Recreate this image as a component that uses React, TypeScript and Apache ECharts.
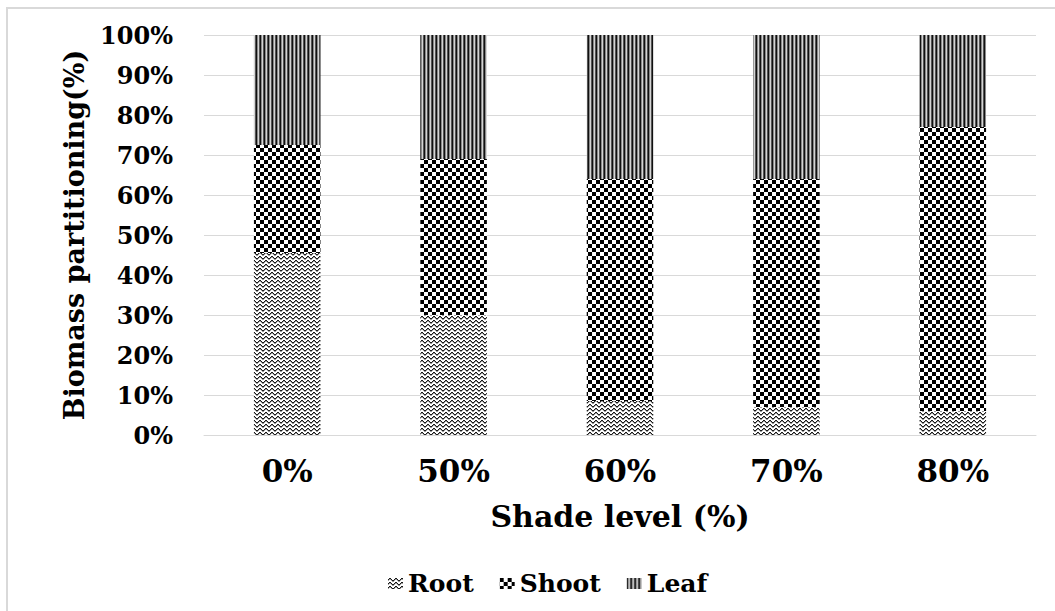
import React, { useEffect, useRef } from "react";
import * as echarts from "echarts";

const categories = ["0%", "50%", "60%", "70%", "80%"];
const rootValues = [45.5, 30, 8.5, 7, 6];
const shootValues = [27, 39, 55.5, 57, 71];
const leafValues = [27.5, 31, 36, 36, 23];
const seriesNames = ["Root", "Shoot", "Leaf"];

const FONT = "DejaVu Serif";

function makeCanvas(w: number, h: number, draw: (ctx: CanvasRenderingContext2D) => void) {
  const c = document.createElement("canvas");
  c.width = w;
  c.height = h;
  const ctx = c.getContext("2d") as CanvasRenderingContext2D;
  ctx.fillStyle = "#ffffff";
  ctx.fillRect(0, 0, w, h);
  draw(ctx);
  return { image: c.toDataURL(), imageWidth: w, imageHeight: h, repeat: "repeat" };
}

function wavePattern() {
  return makeCanvas(6, 4, (ctx) => {
    const ys = [1, 0, 0, 1, 2, 2];
    ys.forEach((y, x) => {
      ctx.fillStyle = "#1a1a1a";
      ctx.fillRect(x, y, 1, 1);
      ctx.fillStyle = "#9a9a9a";
      ctx.fillRect(x, (y + 1) % 4, 1, 1);
    });
  });
}

function checkerPattern() {
  return makeCanvas(8, 8, (ctx) => {
    ctx.fillStyle = "#000000";
    ctx.fillRect(0, 0, 4, 4);
    ctx.fillRect(4, 4, 4, 4);
  });
}

function stripePattern() {
  return makeCanvas(4, 4, (ctx) => {
    const cols = ["#111111", "#8a8a8a", "#d4d4d4", "#555555"];
    cols.forEach((c, i) => {
      ctx.fillStyle = c;
      ctx.fillRect(i, 0, 1, 4);
    });
  });
}

export default function App() {
  const ref = useRef<HTMLDivElement>(null);
  useEffect(() => {
    if (!ref.current) return;
    const chart = echarts.init(ref.current, null, { renderer: "svg" });
    const patterns = [wavePattern(), checkerPattern(), stripePattern()];
    const values = [rootValues, shootValues, leafValues];
    chart.setOption({
      animation: false,
      backgroundColor: "#ffffff",
      textStyle: { fontFamily: FONT },
      graphic: [
        {
          type: "rect",
          shape: { x: 7, y: 8, width: 1300, height: 900 },
          style: { fill: "none", stroke: "#d9d9d9", lineWidth: 2 },
          silent: true,
        },
      ],
      grid: { left: 204, right: 19, top: 35, bottom: 176 },
      legend: {
        left: 383,
        top: 566,
        itemWidth: 15,
        itemHeight: 11,
        itemGap: 26,
        icon: "rect",
        textStyle: { fontFamily: FONT, fontWeight: "bold", fontSize: 25, color: "#000" },
        data: seriesNames,
      },
      xAxis: {
        type: "category",
        data: categories,
        name: "Shade level (%)",
        nameLocation: "middle",
        nameGap: 66,
        nameTextStyle: { fontFamily: FONT, fontWeight: "bold", fontSize: 30, color: "#000" },
        axisLine: { show: true, lineStyle: { color: "#d9d9d9", width: 1 } },
        axisTick: { show: false },
        axisLabel: { margin: 20, fontFamily: FONT, fontWeight: "bold", fontSize: 31, color: "#000" },
      },
      yAxis: {
        type: "value",
        min: 0,
        max: 100,
        interval: 10,
        name: "Biomass partitioning(%)",
        nameLocation: "middle",
        nameGap: 116,
        nameTextStyle: { fontFamily: FONT, fontWeight: "bold", fontSize: 27, color: "#000" },
        axisLine: { show: false },
        axisTick: { show: false },
        splitLine: { lineStyle: { color: "#d9d9d9", width: 1 } },
        axisLabel: {
          margin: 31,
          formatter: "{value}%",
          fontFamily: FONT,
          fontWeight: "bold",
          fontSize: 24,
          color: "#000",
        },
      },
      series: seriesNames.map((name, i) => ({
        name,
        type: "bar",
        stack: "total",
        barWidth: "40%",
        data: values[i],
        itemStyle: { color: patterns[i] },
        emphasis: { disabled: true },
      })),
    });
    return () => chart.dispose();
  }, []);
  return (
    <div
      ref={ref}
      style={{ position: "absolute", left: 0, top: 0, width: 1055, height: 611 }}
    />
  );
}
